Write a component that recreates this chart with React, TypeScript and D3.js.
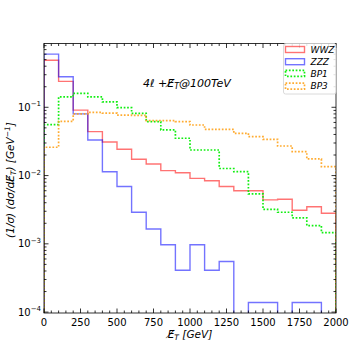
import React from "react";
import * as d3 from "d3";

// bin edges (GeV)
const binEdges = [0, 100, 200, 300, 400, 500, 600, 700, 800, 900, 1000, 1100, 1200, 1300, 1400, 1500, 1600, 1700, 1800, 1900, 2000];

// normalized distributions per bin
const wwz = [0.49, 0.24, 0.091, 0.044, 0.031, 0.0243, 0.0173, 0.0148, 0.0118, 0.011, 0.0091, 0.0084, 0.0069, 0.006, 0.006, 0.0044, 0.0045, 0.0031, 0.0035, 0.0028];
const zzz = [0.6, 0.28, 0.08, 0.0332, 0.0114, 0.0069, 0.0029, 0.00165, 0.00097, 0.00041, 0.00097, 0.00041, 0.00055, 0, 0.000138, 0.000138, 0, 0.000138, 0.000138, 0];
const bp1 = [0.0556, 0.142, 0.16, 0.142, 0.12, 0.099, 0.0817, 0.0616, 0.0466, 0.0352, 0.0237, 0.0237, 0.0127, 0.0114, 0.0054, 0.0032, 0.0029, 0.0024, 0.00185, 0.00146];
const bp3 = [0.026, 0.0624, 0.08, 0.084, 0.082, 0.077, 0.0764, 0.0637, 0.0637, 0.0616, 0.055, 0.0476, 0.0476, 0.0416, 0.0371, 0.034, 0.0271, 0.0224, 0.0175, 0.0135];

const seriesNames = ["WWZ", "ZZZ", "BP1", "BP3"];
const xMajorTicks = [0, 250, 500, 750, 1000, 1250, 1500, 1750, 2000];
const yDecadeExps = [-4, -3, -2, -1];

const PL = 44, PR = 336, PT = 43.5, PB = 313;
const FONT = "DejaVu Sans, sans-serif";

const styles = [
  { color: "#ff0000", opacity: 0.55, width: 1.4, dash: undefined as string | undefined },
  { color: "#0000ff", opacity: 0.55, width: 1.4, dash: undefined as string | undefined },
  { color: "#11ee11", opacity: 1, width: 1.7, dash: "1.7,1.7" },
  { color: "#ffa21a", opacity: 0.9, width: 1.7, dash: "1.7,1.7" },
];

export default function App() {
  const x = d3.scaleLinear().domain([0, 2000]).range([PL, PR]);
  const y = d3.scaleLog().domain([9.7e-5, 0.86]).range([PB, PT]);
  const below = PB + 6;

  const stepPath = (vals: number[]) => {
    const pts: [number, number][] = [];
    const yy = (v: number) => (v > 0 ? y(v) : below);
    pts.push([x(binEdges[0]), below]);
    vals.forEach((v, i) => {
      pts.push([x(binEdges[i]), yy(v)]);
      pts.push([x(binEdges[i + 1]), yy(v)]);
    });
    pts.push([x(binEdges[binEdges.length - 1]), below]);
    return d3.line()(pts) || "";
  };

  const data = [wwz, zzz, bp1, bp3];

  const xMinor: number[] = [];
  for (let v = 0; v <= 2000; v += 50) if (v % 250 !== 0) xMinor.push(v);

  const yMinor: number[] = [];
  for (let e = -5; e <= 0; e++) {
    for (let k = 2; k <= 9; k++) {
      const v = k * Math.pow(10, e);
      if (v > y.domain()[0] && v < y.domain()[1]) yMinor.push(v);
    }
  }

  const legendRows = [49.5, 61.7, 73.3, 86.2];

  return (
    <svg width={354} height={354} style={{ position: "absolute", left: 0, top: 0, background: "#fff" }} fontFamily={FONT}>
      <defs>
        <clipPath id="plotclip">
          <rect x={PL} y={PT} width={PR - PL} height={PB - PT} />
        </clipPath>
      </defs>
      <rect x={0} y={0} width={354} height={354} fill="#fff" />
      <g clipPath="url(#plotclip)">
        {data.map((vals, i) => (
          <path
            key={seriesNames[i]}
            d={stepPath(vals)}
            fill="none"
            stroke={styles[i].color}
            strokeOpacity={styles[i].opacity}
            strokeWidth={styles[i].width}
            strokeDasharray={styles[i].dash}
          />
        ))}
      </g>

      {/* ticks */}
      <g stroke="#000" strokeWidth={0.8}>
        {xMajorTicks.map((t) => (
          <g key={"xM" + t}>
            <line x1={x(t)} x2={x(t)} y1={PB} y2={PB - 4.5} />
            <line x1={x(t)} x2={x(t)} y1={PT} y2={PT + 4.5} />
          </g>
        ))}
        {xMinor.map((t) => (
          <g key={"xm" + t}>
            <line x1={x(t)} x2={x(t)} y1={PB} y2={PB - 2.5} />
            <line x1={x(t)} x2={x(t)} y1={PT} y2={PT + 2.5} />
          </g>
        ))}
        {yDecadeExps.map((e) => (
          <g key={"yM" + e}>
            <line x1={PL} x2={PL + 4.5} y1={y(Math.pow(10, e))} y2={y(Math.pow(10, e))} />
            <line x1={PR} x2={PR - 4.5} y1={y(Math.pow(10, e))} y2={y(Math.pow(10, e))} />
          </g>
        ))}
        {yMinor.map((v, i) => (
          <g key={"ym" + i}>
            <line x1={PL} x2={PL + 2.5} y1={y(v)} y2={y(v)} />
            <line x1={PR} x2={PR - 2.5} y1={y(v)} y2={y(v)} />
          </g>
        ))}
      </g>

      {/* frame */}
      <rect x={PL} y={PT} width={PR - PL} height={PB - PT} fill="none" stroke="#000" strokeWidth={0.8} />

      {/* x tick labels */}
      <g fontSize={10} textAnchor="middle" fill="#000">
        {xMajorTicks.map((t) => (
          <text key={"xl" + t} x={x(t)} y={PB + 12.5}>
            {String(t)}
          </text>
        ))}
      </g>

      {/* y tick labels */}
      <g fontSize={10} fill="#000">
        {yDecadeExps.map((e) => (
          <text key={"yl" + e} x={PL - 3} y={y(Math.pow(10, e)) + 3.5} textAnchor="end">
            10
            <tspan fontSize={7} dy={-4.5}>{"\u2212" + Math.abs(e)}</tspan>
          </text>
        ))}
      </g>

      {/* x label */}
      <text x={190} y={338} fontSize={10.5} textAnchor="middle" fill="#000">
        <tspan fontStyle="italic">{"E\u0338"}</tspan>
        <tspan fontStyle="italic" fontSize={7.5} dy={2}>T</tspan>
        <tspan dy={-2}> </tspan>
        <tspan fontStyle="italic">[GeV]</tspan>
      </text>

      {/* y label */}
      <text transform={`translate(14,180) rotate(-90)`} fontSize={10.5} textAnchor="middle" fill="#000">
        <tspan fontStyle="italic">{"(1/\u03c3) (d\u03c3/dE\u0338"}</tspan>
        <tspan fontStyle="italic" fontSize={7.5} dy={2}>T</tspan>
        <tspan fontStyle="italic" dy={-2}>{") [GeV"}</tspan>
        <tspan fontStyle="italic" fontSize={7.5} dy={-4}>{"\u22121"}</tspan>
        <tspan fontStyle="italic" dy={4}>]</tspan>
      </text>

      {/* annotation */}
      <text x={143} y={86.5} fontSize={11} fill="#000" fontStyle="italic">
        {"4\u2113 +E\u0338"}
        <tspan fontSize={8} dy={2}>T</tspan>
        <tspan dy={-2}>@100TeV</tspan>
      </text>

      {/* legend */}
      <rect x={283.5} y={43.5} width={52.5} height={50.5} rx={2} fill="#fff" fillOpacity={0.85} stroke="#d0d0d0" strokeWidth={0.8} />
      {seriesNames.map((name, i) => (
        <g key={"lg" + name}>
          <rect
            x={285.5}
            y={legendRows[i] - 3}
            width={19}
            height={6}
            fill="none"
            stroke={styles[i].color}
            strokeOpacity={styles[i].opacity}
            strokeWidth={styles[i].width}
            strokeDasharray={styles[i].dash}
          />
          <text x={310.5} y={legendRows[i] + 3.2} fontSize={9} fontStyle="italic" fill="#000">
            {name}
          </text>
        </g>
      ))}
    </svg>
  );
}
